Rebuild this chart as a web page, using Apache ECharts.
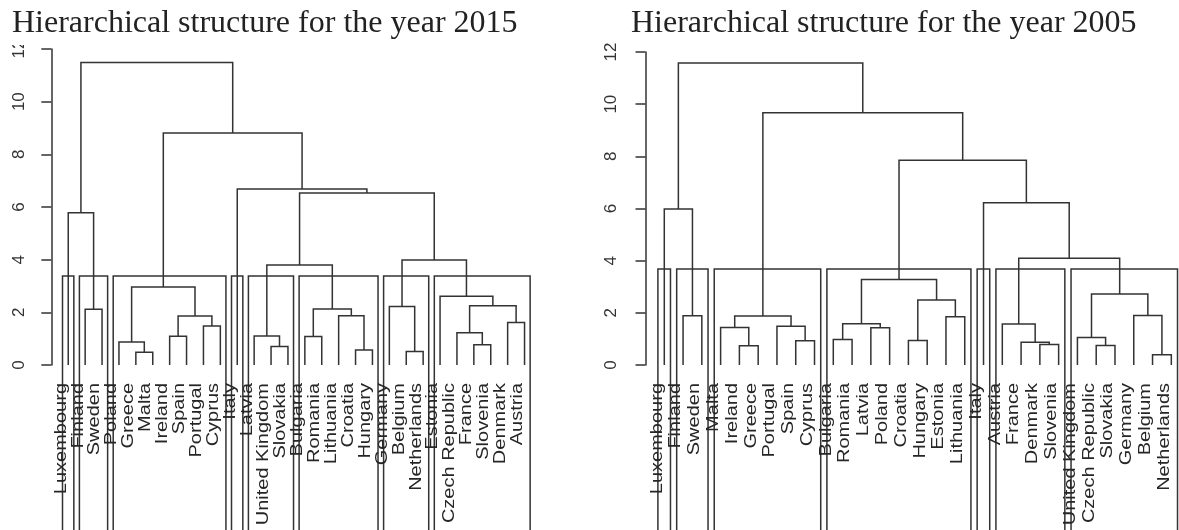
<!DOCTYPE html>
<html>
<head>
<meta charset="utf-8">
<script src="https://cdn.jsdelivr.net/npm/echarts@6/dist/echarts.min.js"></script>
<style>
  html, body { margin: 0; padding: 0; background: #fff; }
  #chart { width: 1179px; height: 530px; }
</style>
</head>
<body>
<div id="chart"></div>
<script>
// leaf order as drawn, merges in hclust style (negative = leaf, positive = earlier merge row)
const leaves2015 = ['Luxembourg', 'Finland', 'Sweden', 'Poland', 'Greece', 'Malta', 'Ireland', 'Spain',
  'Portugal', 'Cyprus', 'Italy', 'Latvia', 'United Kingdom', 'Slovakia', 'Bulgaria', 'Romania',
  'Lithuania', 'Croatia', 'Hungary', 'Germany', 'Belgium', 'Netherlands', 'Estonia', 'Czech Republic',
  'France', 'Slovenia', 'Denmark', 'Austria']
const merges2015 = [[-5, -6], [-21, -22], [-18, -19], [-13, -14], [-25, -26], [-4, 1], [-15, -16],
  [-7, -8], [-12, 4], [-24, 5], [-9, -10], [-27, -28], [8, 11], [-17, 3], [-2, -3], [7, 14], [-20, 2],
  [10, 12], [-23, 18], [6, 13], [9, 16], [17, 19], [-1, 15], [21, 22], [-11, 24], [20, 25], [23, 26]]
const heights2015 = [0.48, 0.51, 0.57, 0.70, 0.77, 0.87, 1.08, 1.09, 1.10, 1.22, 1.48, 1.61, 1.86,
  1.87, 2.12, 2.13, 2.22, 2.25, 2.61, 2.96, 3.80, 3.99, 5.78, 6.53, 6.68, 8.81, 11.49]
const clusters2015 = [1, 2, 7, 1, 3, 5, 3, 6]

const leaves2005 = ['Luxembourg', 'Finland', 'Sweden', 'Malta', 'Ireland', 'Greece', 'Portugal', 'Spain',
  'Cyprus', 'Bulgaria', 'Romania', 'Latvia', 'Poland', 'Croatia', 'Hungary', 'Estonia', 'Lithuania',
  'Italy', 'Austria', 'France', 'Denmark', 'Slovenia', 'United Kingdom', 'Czech Republic', 'Slovakia',
  'Germany', 'Belgium', 'Netherlands']
const merges2005 = [[-27, -28], [-5, -6], [-24, -25], [-21, -22], [-20, 4], [-8, -9], [-14, -15],
  [-10, -11], [-23, 3], [-12, -13], [-4, 2], [-7, 6], [-19, 5], [8, 10], [-16, -17], [11, 12], [-2, -3],
  [-26, 1], [7, 15], [9, 18], [14, 19], [13, 20], [-18, 22], [-1, 17], [21, 23], [16, 25], [24, 26]]
const heights2005 = [0.39, 0.74, 0.75, 0.79, 0.87, 0.93, 0.94, 0.98, 1.05, 1.43, 1.44, 1.49, 1.57,
  1.58, 1.85, 1.88, 1.89, 1.90, 2.49, 2.72, 3.28, 4.09, 6.22, 5.98, 7.85, 9.67, 11.58]
const clusters2005 = [1, 2, 6, 8, 1, 4, 6]

const yTicks = [0, 2, 4, 6, 8, 10, 12]
const titles = ['Hierarchical structure for the year 2015', 'Hierarchical structure for the year 2005']

const ink = '#333'
const lineW = 1.5

function layoutTree(leaves, merges, heights) {
  const pos = []
  const at = (ref) => (ref < 0 ? { x: -ref, h: 0 } : pos[ref - 1])
  merges.forEach(([a, b], i) => {
    const l = at(a), r = at(b)
    pos.push({ x: (l.x + r.x) / 2, h: heights[i], xl: l.x, hl: l.h, xr: r.x, hr: r.h })
  })
  return pos
}

function cutBoxes(sizes, heights) {
  const k = sizes.length
  const desc = heights.slice().sort((a, b) => b - a)
  const cut = (desc[k - 2] + desc[k - 1]) / 2
  let start = 0
  return sizes.map((s) => {
    const box = { l: start + 0.66, r: start + s + 0.33, h: cut }
    start += s
    return box
  })
}

const panels = [
  { leaves: leaves2015, merges: merges2015, heights: heights2015, clusters: clusters2015,
    grid: { left: 50, top: 49, width: 492.8, bottom: 165 }, labelMargin: 22, titleLeft: 12 },
  { leaves: leaves2005, merges: merges2005, heights: heights2005, clusters: clusters2005,
    grid: { left: 644, top: 52, width: 547.6, bottom: 165 }, labelMargin: 24, titleLeft: 631 },
]

const chart = echarts.init(document.getElementById('chart'))

const grid = [], xAxis = [], yAxis = [], series = []
panels.forEach((p, i) => {
  const nodes = layoutTree(p.leaves, p.merges, p.heights)
  const boxes = cutBoxes(p.clusters, p.heights)
  grid.push({ ...p.grid, containLabel: false, outerBoundsMode: 'none' })
  xAxis.push({ type: 'value', gridIndex: i, min: -0.08, max: p.leaves.length + 1.08, show: false })
  yAxis.push({
    type: 'value', gridIndex: i, min: yTicks[0], max: yTicks[yTicks.length - 1], interval: 2,
    axisLine: { show: true, lineStyle: { color: ink, width: lineW } },
    axisTick: { show: true, length: 10, lineStyle: { color: ink, width: lineW } },
    axisLabel: { rotate: 90, margin: p.labelMargin, fontSize: 17, color: ink, fontFamily: 'Liberation Sans' },
    splitLine: { show: false },
  })
  series.push({
    type: 'custom', xAxisIndex: i, yAxisIndex: i, clip: false, silent: true,
    data: nodes.map((n) => [n.x, n.h]),
    renderItem: (params, api) => {
      const n = nodes[params.dataIndex]
      const pts = [[n.xl, n.hl], [n.xl, n.h], [n.xr, n.h], [n.xr, n.hr]].map((q) => api.coord(q))
      return { type: 'polyline', shape: { points: pts }, style: { stroke: ink, lineWidth: lineW, fill: null } }
    },
  })
  series.push({
    type: 'custom', xAxisIndex: i, yAxisIndex: i, clip: false, silent: true,
    data: boxes.map((b) => [b.l, b.h]),
    renderItem: (params, api) => {
      const b = boxes[params.dataIndex]
      const tl = api.coord([b.l, b.h]), tr = api.coord([b.r, b.h])
      const bottom = api.getHeight() + 5
      return {
        type: 'polyline',
        shape: { points: [[tl[0], bottom], tl, tr, [tr[0], bottom]] },
        style: { stroke: ink, lineWidth: lineW, fill: null },
      }
    },
  })
  series.push({
    type: 'custom', xAxisIndex: i, yAxisIndex: i, clip: false, silent: true,
    data: p.leaves.map((name, j) => [j + 1, 0]),
    renderItem: (params, api) => {
      const q = api.coord([params.dataIndex + 1, 0])
      return {
        type: 'text', x: q[0] - 7, y: q[1] + 18, rotation: Math.PI / 2, scaleY: 0.8,
        style: {
          text: p.leaves[params.dataIndex], fontSize: 20, fontFamily: 'Liberation Sans',
          fill: '#262626', align: 'right', verticalAlign: 'middle',
        },
      }
    },
  })
})

chart.setOption({
  animation: false,
  backgroundColor: '#fff',
  title: panels.map((p, i) => ({
    text: titles[i], left: p.titleLeft, top: 8, padding: 0,
    textStyle: { fontFamily: 'Liberation Serif', fontSize: 32, fontWeight: 'normal', color: '#222' },
  })),
  grid, xAxis, yAxis, series,
  // the top "12" labels are cut off under the titles in the original
  graphic: [
    { type: 'rect', left: 0, top: 38, shape: { width: 38, height: 7 }, style: { fill: '#fff' }, z: 10 },
    { type: 'rect', left: 592, top: 38, shape: { width: 40, height: 5 }, style: { fill: '#fff' }, z: 10 },
  ],
})
</script>
</body>
</html>
